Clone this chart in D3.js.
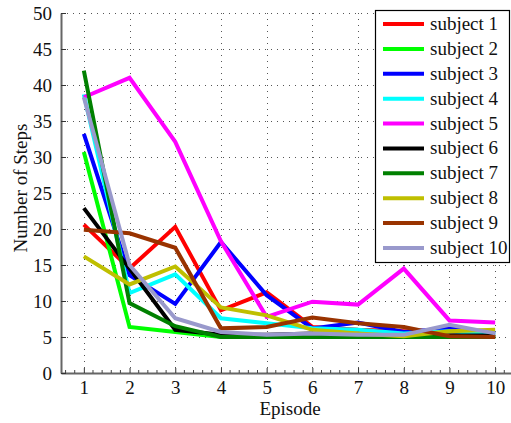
<!DOCTYPE html>
<html>
<head>
<meta charset="utf-8">
<script src="https://cdn.jsdelivr.net/npm/d3@7"></script>
<style>
  html, body { margin: 0; padding: 0; background: #fff; }
  svg { display: block; }
  svg text { font-family: "Liberation Serif", "Times New Roman", serif !important; }
</style>
</head>
<body>
<svg id="chart" width="511" height="423"></svg>
<script>
// Steps needed per episode for each subject
const episodes = [1, 2, 3, 4, 5, 6, 7, 8, 9, 10];
const subjects = ["subject 1", "subject 2", "subject 3", "subject 4", "subject 5",
                  "subject 6", "subject 7", "subject 8", "subject 9", "subject 10"];
const colors = ["#ff0000", "#00ff00", "#0000ff", "#00ffff", "#ff00ff",
                "#000000", "#008000", "#bfbf00", "#993300", "#9999cc"];
const steps = [
  [20.6, 14.5, 20.3, 8.7, 11.2, 6.4, 6.0, 5.8, 5.5, 5.0],
  [30.7, 6.4, 5.7, 5.0, 5.0, 5.0, 5.0, 5.0, 5.0, 5.0],
  [33.2, 13.6, 9.6, 18.2, 10.8, 6.2, 7.0, 5.7, 6.2, 5.5],
  [38.7, 11.1, 13.7, 7.6, 6.9, 6.2, 6.0, 5.5, 5.8, 5.4],
  [38.3, 41.0, 32.1, 18.3, 7.8, 9.9, 9.5, 14.5, 7.3, 7.0],
  [22.9, 14.5, 6.0, 5.3, 5.3, 5.5, 5.3, 5.2, 5.2, 5.2],
  [42.0, 9.7, 6.5, 5.0, 5.0, 5.0, 5.0, 5.0, 5.0, 5.0],
  [16.2, 12.3, 14.8, 9.1, 8.0, 6.0, 5.5, 5.1, 5.8, 6.0],
  [19.9, 19.4, 17.4, 6.2, 6.4, 7.7, 6.9, 6.4, 5.1, 5.0],
  [38.3, 15.0, 7.6, 5.7, 5.3, 5.5, 5.3, 5.3, 6.7, 5.5]
];
const yTicks = [0, 5, 10, 15, 20, 25, 30, 35, 40, 45, 50];

const svg = d3.select("#chart");
const plotLeft = 61, plotTop = 13, plotBottom = 373, plotRight = 518;

const x = d3.scaleLinear().domain([0.5, 10.5]).range([plotLeft, plotRight]);
const y = d3.scaleLinear().domain([0, 50]).range([plotBottom, plotTop]);

// dotted grid
const grid = svg.append("g")
  .attr("stroke", "#555").attr("stroke-width", 1).attr("stroke-dasharray", "1,5");
grid.selectAll("line.h").data(yTicks.slice(1)).join("line")
  .attr("class", "h")
  .attr("x1", plotLeft).attr("x2", plotRight)
  .attr("y1", d => Math.round(y(d)) + 0.5).attr("y2", d => Math.round(y(d)) + 0.5);
grid.selectAll("line.v").data(episodes).join("line")
  .attr("class", "v")
  .attr("x1", d => Math.round(x(d)) + 0.5).attr("x2", d => Math.round(x(d)) + 0.5)
  .attr("y1", plotTop).attr("y2", plotBottom);

// axes with inward ticks
const xAxis = svg.append("g").attr("transform", `translate(0,${plotBottom})`)
  .call(d3.axisBottom(x).tickValues(episodes).tickSizeInner(-5).tickSizeOuter(0).tickPadding(8));
const yAxis = svg.append("g").attr("transform", `translate(${plotLeft},0)`)
  .call(d3.axisLeft(y).tickValues(yTicks).tickSizeInner(-5).tickSizeOuter(0).tickPadding(9));

// minor ticks along the episode axis
const minor = d3.range(0.6, 10.5, 0.2).filter(v => Math.abs(v - Math.round(v)) > 0.05);
svg.append("g").selectAll("line").data(minor).join("line")
  .attr("x1", d => x(d)).attr("x2", d => x(d))
  .attr("y1", plotBottom).attr("y2", plotBottom - 3)
  .attr("stroke", "#444").attr("stroke-width", 1);

[xAxis, yAxis].forEach(g => {
  g.select(".domain").attr("stroke", "#666").attr("stroke-width", 2);
  g.selectAll(".tick line").attr("stroke", "#333");
  g.selectAll(".tick text").attr("font-size", 19).attr("fill", "#111");
});

// series lines
const line = d3.line().x((d, i) => x(episodes[i])).y(d => y(d));
svg.append("g").selectAll("path").data(steps).join("path")
  .attr("d", line)
  .attr("fill", "none")
  .attr("stroke", (d, i) => colors[i])
  .attr("stroke-width", 4)
  .attr("stroke-linejoin", "miter");

// axis titles
svg.append("text")
  .attr("x", 290).attr("y", 415)
  .attr("text-anchor", "middle").attr("font-size", 19).attr("fill", "#111")
  .text("Episode");
svg.append("text")
  .attr("transform", "translate(27,188) rotate(-90)")
  .attr("text-anchor", "middle").attr("font-size", 19).attr("fill", "#111")
  .text("Number of Steps");

// legend
const legend = svg.append("g");
legend.append("rect")
  .attr("x", 375.5).attr("y", 10.5).attr("width", 134).attr("height", 252)
  .attr("fill", "#fff").attr("stroke", "#000").attr("stroke-width", 1.2);
const rowY = d3.scalePoint().domain(subjects).range([24, 248]);
const rows = legend.selectAll("g.row").data(subjects).join("g")
  .attr("class", "row")
  .attr("transform", d => `translate(0,${rowY(d)})`);
rows.append("line")
  .attr("x1", 383).attr("x2", 424).attr("y1", 0).attr("y2", 0)
  .attr("stroke", (d, i) => colors[i]).attr("stroke-width", 4);
rows.append("text")
  .attr("x", 430).attr("y", 6)
  .attr("font-size", 19).attr("fill", "#111")
  .text(d => d);
</script>
</body>
</html>
